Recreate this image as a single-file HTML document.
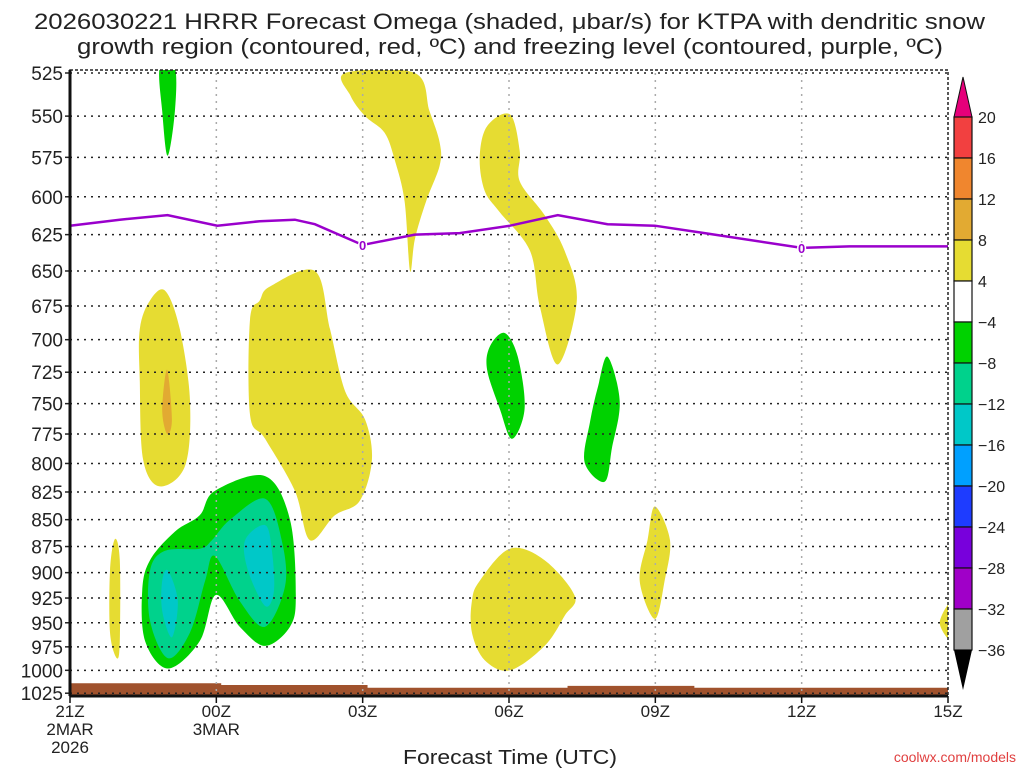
<!DOCTYPE html>
<html><head><meta charset="utf-8"><style>
html,body{margin:0;padding:0;background:#fff;}
svg{display:block;font-family:"Liberation Sans",sans-serif;}
</style></head><body>
<svg id="c" width="1024" height="768" viewBox="0 0 1024 768">
<text x="34" y="29" textLength="951" lengthAdjust="spacingAndGlyphs" font-size="22" fill="#222">2026030221 HRRR Forecast Omega (shaded, μbar/s) for KTPA with dendritic snow</text>
<text x="77" y="54" textLength="866" lengthAdjust="spacingAndGlyphs" font-size="22" fill="#222">growth region (contoured, red, ºC) and freezing level (contoured, purple, ºC)</text>
<text x="403" y="764" textLength="214" lengthAdjust="spacingAndGlyphs" font-size="20" fill="#222">Forecast Time (UTC)</text>
<text x="1016" y="762" text-anchor="end" font-size="14" fill="#e04040">coolwx.com/models</text>
<g id="plot"></g>
</svg>
<script>
const pressureTicks=[525,550,575,600,625,650,675,700,725,750,775,800,825,850,875,900,925,950,975,1000,1025];
const hourTicks=[0,3,6,9,12,15,18];
const hourLabels=[["21Z","2MAR","2026"],["00Z","3MAR"],["03Z"],["06Z"],["09Z"],["12Z"],["15Z"]];
const freezeHours=[0,1.02,2.0,3.02,3.89,4.61,5.02,6.0,7.07,7.99,9.02,10.0,11.02,11.99,13.01,15.0,15.98,18.0];
const freezePres=[619,615,612,619,616,615,618,632,625,624,619,612,618,619,624,634,633,633];
const colorLevels=[20,16,12,8,4,-4,-8,-12,-16,-20,-24,-28,-32,-36];
const colorFills=["#f24040","#f0862e","#e2aa32","#e6dc32","#ffffff","#00d200","#00d28c","#00c8c8","#00a0ff","#1e3cff","#7800dc","#a000c8","#a0a0a0"];
const groundHours=[0,2.2,3.1,5.2,6.1,9.8,10.2,11.6,12.8,18];
const groundPres=[1014,1014,1016,1016,1019,1019,1017,1017,1019,1019];
// omega regions: [fill, hours[], pressures[]]
const regions=[
["#e6dc32",[5.64,5.75,6.05,6.45,6.66,6.86,6.97,7.07,7.3,7.58,7.58,7.37,7.07],[525,538,550,560,577,603,650,628,603,580,566,547,525]],
["#e6dc32",[8.40,8.55,9.02,9.22,9.22,9.73,10.14,10.39,10.0,9.63,9.43,8.81,8.5],[575,556,549,571,590,612,636,671,719,675,636,610,596]],
["#e6dc32",[1.64,1.95,2.25,2.46,2.36,1.84,1.50,1.43,1.43],[671,664,692,748,802,820,797,732,692]],
["#e2aa32",[1.99,2.09,1.99,1.89],[723,763,775,755]],
["#e6dc32",[3.89,4.10,5.02,5.33,5.64,6.05,6.19,5.94,5.43,4.92,4.61,4.0,3.69,3.69],[671,661,650,692,740,763,797,833,846,869,824,779,759,685]],
["#e6dc32",[0.92,1.02,1.02,0.96,0.82,0.82],[868,888,969,987,960,898]],
["#e6dc32",[8.40,9.02,9.73,10.35,10.14,9.73,9.02,8.5,8.24,8.24],[908,877,888,923,943,974,1000,989,960,928]],
["#e6dc32",[11.99,12.30,12.19,11.99,11.68,11.84],[838,869,908,946,908,869]],
["#e6dc32",[18.1,17.83,18.1],[928,950,969]],
["#00d200",[1.84,2.15,2.15,2.0,1.89],[522,522,547,574,547]],
["#00d200",[8.91,9.18,9.32,9.06,8.81,8.55,8.61],[695,713,754,779,754,723,705]],
["#00d200",[11.02,11.27,11.11,10.96,10.55,10.66,10.82],[713,748,787,816,799,765,737]],
["#00d200",[2.97,4.0,4.51,4.63,4.51,4.0,3.48,2.99,2.66,2.01,1.54,1.48,1.64,2.15,2.66],[824,811,850,922,954,974,954,922,969,998,969,918,888,861,846]],
["#00d28c",[2.91,3.28,4.0,4.34,4.41,4.0,3.48,2.97,2.77,2.46,2.01,1.64,1.64,1.95,2.66],[869,850,831,869,913,954,928,884,908,960,987,948,898,879,877]],
["#00c8c8",[2.01,2.21,2.09,1.89,1.89],[898,928,965,938,908]],
["#00c8c8",[4.0,4.14,4.18,4.0,3.65,3.59],[855,879,918,933,898,869]]
];
const X0=70,X1=948,Y0=73,YB=696;
const xs=h=>X0+(X1-X0)*h/18;
const ys=p=>Y0+927*Math.log(p/525);
const NS="http://www.w3.org/2000/svg";
const g=document.getElementById('plot');
function mk(t,a,parent){const e=document.createElementNS(NS,t);for(const k in a)e.setAttribute(k,a[k]);(parent||g).appendChild(e);return e;}
function smooth(pts){let d="";const n=pts.length;for(let i=0;i<n;i++){const p0=pts[(i-1+n)%n],p1=pts[i],p2=pts[(i+1)%n],p3=pts[(i+2)%n];if(i===0)d+="M"+p1[0]+","+p1[1];const c1=[p1[0]+(p2[0]-p0[0])/6,p1[1]+(p2[1]-p0[1])/6],c2=[p2[0]-(p3[0]-p1[0])/6,p2[1]-(p3[1]-p1[1])/6];d+="C"+c1[0].toFixed(1)+","+c1[1].toFixed(1)+" "+c2[0].toFixed(1)+","+c2[1].toFixed(1)+" "+p2[0].toFixed(1)+","+p2[1].toFixed(1);}return d+"Z";}
const clip=mk('clipPath',{id:'pc'});mk('rect',{x:X0,y:Y0-3,width:X1-X0,height:YB-Y0+3},clip);
const rg=mk('g',{'clip-path':'url(#pc)'});


regions.forEach((r,i)=>{const pts=r[1].map((h,j)=>[xs(h),ys(r[2][j])]);const e=mk('path',{d:smooth(pts),fill:r[0]},rg);

});
// ground
let gd="M"+xs(0)+","+YB;groundHours.forEach((h,i)=>{if(i>0)gd+="L"+xs(h)+","+ys(groundPres[i-1]).toFixed(1);gd+="L"+xs(h)+","+ys(groundPres[i]).toFixed(1);});gd+="L"+xs(18)+","+YB+"Z";
const gr=mk('path',{d:gd,fill:'#a0522d'},rg);


// grid
hourTicks.forEach((h,i)=>{if(i>0&&i<hourTicks.length-1){const l=mk('line',{x1:xs(h),x2:xs(h),y1:Y0,y2:YB,stroke:'#aaa','stroke-dasharray':'2,5','stroke-width':1.5});

}});
pressureTicks.forEach(p=>{const y=ys(p);const l=mk('line',{x1:X0,x2:X1,y1:y,y2:y,stroke:'#222','stroke-dasharray':'2,5','stroke-width':1.5});


const t=mk('text',{x:X0-7,y:y+7,'text-anchor':'end','font-size':19,fill:'#222'});t.textContent=p;


mk('line',{x1:X0-5,x2:X0,y1:y,y2:y,stroke:'#222','stroke-width':1.5});});
// freezing line
const fl=mk('polyline',{points:freezeHours.map((h,i)=>xs(h)+","+ys(freezePres[i]).toFixed(1)).join(" "),fill:'none',stroke:'#9a00cc','stroke-width':2.5});


[6,15].forEach(h=>{let k=freezeHours.findIndex(v=>v>=h);const y=ys(freezePres[k]);const t=mk('text',{x:xs(h),y:y+5,'text-anchor':'middle','font-size':13,'font-weight':'bold',fill:'#9a00cc',stroke:'#fff','stroke-width':3,'paint-order':'stroke'});t.textContent='0';

});
// frame
const fr=mk('rect',{x:X0,y:Y0-3,width:X1-X0,height:YB-Y0+3,fill:'none',stroke:'#222','stroke-width':1.5,'stroke-dasharray':'3,2'});


mk('line',{x1:X0,x2:X0,y1:Y0-3,y2:YB,stroke:'#111','stroke-width':3});
mk('line',{x1:X0,x2:X1,y1:YB,y2:YB,stroke:'#111','stroke-width':3});
hourTicks.forEach((h,i)=>{const x=xs(h);mk('line',{x1:x,x2:x,y1:YB,y2:YB+7,stroke:'#111','stroke-width':1.5});
hourLabels[i].forEach((s,j)=>{const t=mk('text',{x:x,y:YB+21+j*18,'text-anchor':'middle','font-size':17,fill:'#222'});t.textContent=s;

});});
// colorbar
const CB0=117,CBs=41,CX=954,CW=18;
const cb=mk('g',{});


mk('polygon',{points:`${CX},${CB0} ${CX+CW},${CB0} ${CX+CW/2},${CB0-40}`,fill:'#e6007a',stroke:'#111'},cb);
colorFills.forEach((c,i)=>{mk('rect',{x:CX,y:CB0+i*CBs,width:CW,height:CBs,fill:c,stroke:'#111','stroke-width':1.2},cb);});
const yb=CB0+colorFills.length*CBs;
mk('polygon',{points:`${CX},${yb} ${CX+CW},${yb} ${CX+CW/2},${yb+40}`,fill:'#000'},cb);
colorLevels.forEach((v,i)=>{const t=mk('text',{x:CX+CW+6,y:CB0+i*CBs+6,'font-size':16,fill:'#222'},cb);t.textContent=v<0?'\u2212'+(-v):v;

});
</script>
</body></html>
